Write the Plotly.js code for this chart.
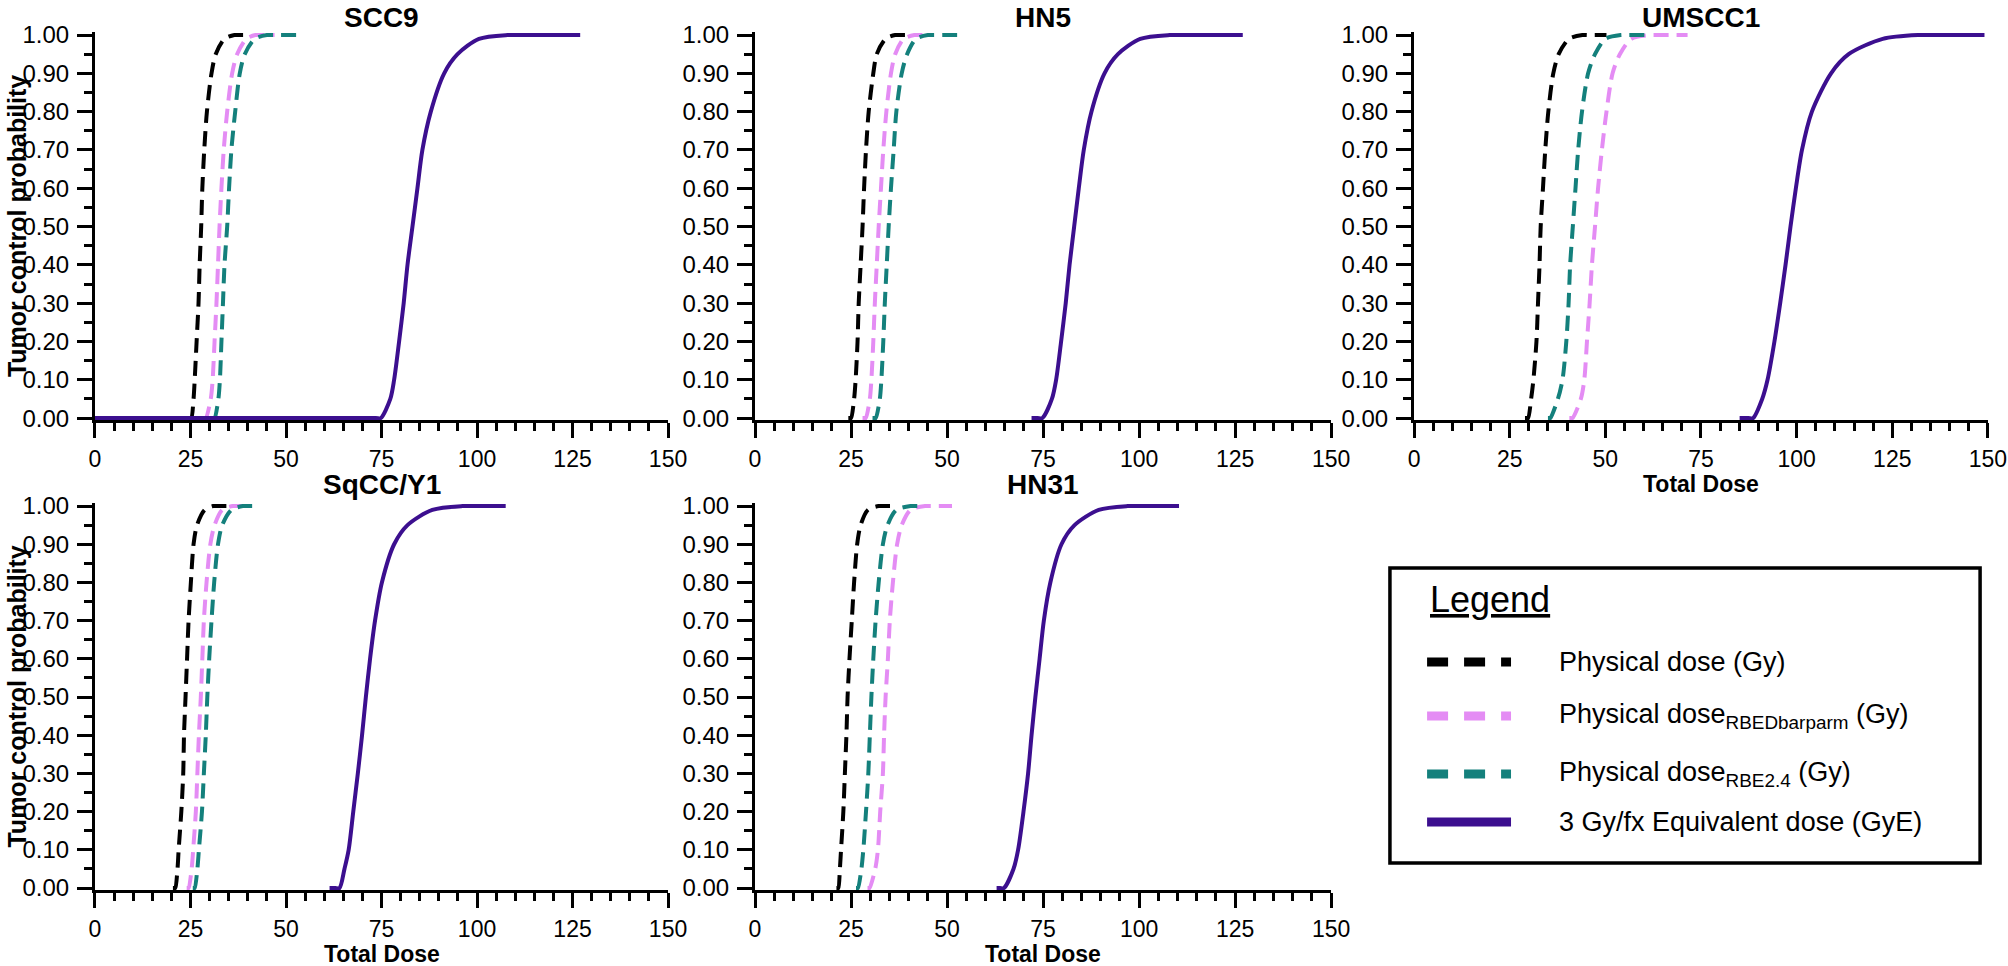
<!DOCTYPE html>
<html>
<head>
<meta charset="utf-8">
<script src="https://cdn.plot.ly/plotly-3.0.1.min.js"></script>
<style>
  html, body { margin: 0; padding: 0; background: #fff; overflow: hidden; }
  #tcp-chart { width: 2008px; height: 966px; }
</style>
</head>
<body>
<div id="tcp-chart"></div>
<script>
// TCP level of each point; every dose array below is read off its curve at these levels
// (first = where the drawn line starts, last = where it stops on the 1.00 plateau)
var tcpLevels = [0, 0, 0, 0.05, 0.1, 0.2, 0.3, 0.4, 0.5, 0.6, 0.7, 0.8, 0.9, 0.95, 0.99, 1, 1, 1];

var panelNames = ['SCC9', 'HN5', 'UMSCC1', 'SqCC/Y1', 'HN31'];
var seriesNames = [
  'Physical dose (Gy)',
  'Physical dose<sub>RBEDbarparm</sub> (Gy)',
  'Physical dose<sub>RBE2.4</sub> (Gy)',
  '3 Gy/fx Equivalent dose (GyE)'
];
var xTicks = [0, 25, 50, 75, 100, 125, 150];
var yTicks = [0, 0.1, 0.2, 0.3, 0.4, 0.5, 0.6, 0.7, 0.8, 0.9, 1];

// SCC9
var scc9Physical = [24.3, 24.8, 25.2, 25.8, 26.1, 26.6, 27.1, 27.4, 27.8, 28.1, 28.6, 29.3, 30.5, 31.6, 33.9, 36.5, 37.5, 40.5];
var scc9Rbed     = [28.2, 28.6, 29.0, 30.3, 30.8, 31.3, 31.8, 32.2, 32.6, 33.1, 33.7, 34.6, 35.9, 37.2, 39.6, 42.0, 43.0, 47.0];
var scc9Rbe24    = [30.6, 31.0, 31.3, 32.3, 32.7, 33.1, 33.5, 33.9, 34.6, 35.1, 35.7, 36.7, 37.9, 39.2, 41.8, 45.0, 46.5, 52.7];
var scc9Equiv    = [0, 73.5, 74.8, 77.3, 78.3, 79.6, 80.8, 81.8, 83.1, 84.4, 85.7, 87.9, 91.4, 94.9, 100.5, 108.0, 111.0, 127.0];

// HN5
var hn5Physical = [24.3, 24.7, 25.0, 25.8, 26.2, 26.7, 27.0, 27.5, 28.0, 28.4, 28.9, 29.6, 30.8, 31.7, 34.0, 36.5, 37.5, 41.0];
var hn5Rbed     = [28.0, 28.4, 28.8, 29.9, 30.3, 30.8, 31.2, 31.7, 32.2, 32.8, 33.4, 34.2, 35.4, 36.5, 38.7, 41.5, 42.5, 45.7];
var hn5Rbe24    = [30.6, 31.0, 31.4, 32.5, 32.9, 33.4, 33.8, 34.3, 34.8, 35.4, 36.1, 36.8, 38.2, 39.6, 41.9, 45.0, 46.5, 53.1];
var hn5Equiv    = [72.0, 73.6, 74.8, 77.3, 78.4, 79.7, 80.9, 81.9, 83.1, 84.3, 85.6, 87.6, 91.0, 94.5, 100.3, 108.0, 111.0, 127.0];

// UMSCC1
var umscc1Physical = [29.0, 29.4, 29.8, 30.6, 31.2, 32.0, 32.4, 32.8, 33.1, 33.7, 34.3, 35.1, 36.4, 37.8, 40.5, 44.0, 45.5, 50.3];
var umscc1Rbed     = [40.6, 41.0, 41.4, 43.6, 44.5, 45.2, 45.9, 46.5, 47.3, 48.1, 49.1, 50.3, 51.9, 53.8, 56.8, 62.0, 64.0, 71.5];
var umscc1Rbe24    = [35.0, 35.3, 35.6, 37.6, 38.8, 39.8, 40.4, 40.8, 41.5, 42.2, 42.9, 43.9, 45.5, 47.3, 50.0, 54.0, 55.5, 60.3];
var umscc1Equiv    = [85.1, 87.4, 88.6, 91.0, 92.4, 94.2, 95.7, 97.1, 98.4, 99.8, 101.4, 104.0, 109.0, 113.6, 122.5, 132.0, 136.0, 149.1];

// SqCC/Y1
var sqccPhysical = [20.4, 20.7, 21.0, 21.6, 21.9, 22.6, 23.1, 23.3, 23.7, 24.1, 24.5, 25.1, 25.8, 26.7, 28.7, 30.9, 31.9, 35.7];
var sqccRbed     = [24.0, 24.3, 24.5, 25.3, 25.7, 26.4, 26.8, 27.2, 27.7, 28.1, 28.5, 29.2, 30.2, 31.3, 33.3, 36.1, 37.1, 40.0];
var sqccRbe24    = [25.6, 25.9, 26.1, 26.8, 27.2, 28.0, 28.5, 29.0, 29.4, 29.9, 30.5, 31.2, 32.2, 33.3, 35.7, 38.7, 39.7, 42.4];
var sqccEquiv    = [61.4, 62.9, 64.0, 65.3, 66.4, 67.6, 68.8, 69.9, 70.9, 72.0, 73.3, 75.1, 78.3, 81.8, 88.3, 96.2, 99.0, 107.5];

// HN31
var hn31Physical = [21.2, 21.5, 21.7, 22.1, 22.4, 23.0, 23.4, 23.8, 24.1, 24.6, 25.2, 25.8, 26.6, 27.5, 29.4, 32.2, 33.2, 35.9];
var hn31Rbed     = [29.3, 29.6, 29.8, 31.3, 32.0, 32.6, 33.3, 33.6, 34.0, 34.6, 35.1, 35.9, 37.0, 38.2, 40.5, 44.3, 45.5, 51.3];
var hn31Rbe24    = [26.3, 26.6, 26.8, 27.7, 28.2, 28.9, 29.5, 29.9, 30.3, 30.8, 31.4, 32.2, 33.3, 34.5, 36.8, 40.5, 41.5, 42.9];
var hn31Equiv    = [62.9, 63.8, 64.8, 67.3, 68.5, 69.9, 71.1, 72.0, 73.0, 74.1, 75.2, 76.9, 79.8, 83.2, 89.5, 97.0, 100.0, 110.4];

var panelDoses = [
  [scc9Physical, scc9Rbed, scc9Rbe24, scc9Equiv],
  [hn5Physical, hn5Rbed, hn5Rbe24, hn5Equiv],
  [umscc1Physical, umscc1Rbed, umscc1Rbe24, umscc1Equiv],
  [sqccPhysical, sqccRbed, sqccRbe24, sqccEquiv],
  [hn31Physical, hn31Rbed, hn31Rbe24, hn31Equiv]
];

var seriesColors = ['#000000', '#e48cf4', '#14807c', '#3c0f8f'];
var seriesDash = ['15px,8px', '15px,8px', '15px,8px', 'solid'];

var FONT = 'Liberation Sans, Arial, sans-serif';
var colDomains = [[0.0473, 0.3327], [0.376, 0.6629], [0.7042, 0.990]];
var rowDomains = [[0.5652, 0.9669], [0.0787, 0.4793]];

var data = [];
panelDoses.forEach(function (doses, p) {
  doses.forEach(function (xs, s) {
    data.push({
      x: xs,
      y: tcpLevels,
      xaxis: 'x' + (p + 1),
      yaxis: 'y' + (p + 1),
      type: 'scatter',
      mode: 'lines',
      name: seriesNames[s],
      showlegend: false,
      hoverinfo: 'skip',
      line: {
        color: seriesColors[s],
        width: 4,
        dash: seriesDash[s],
        shape: 'spline',
        smoothing: 0.8
      }
    });
  });
});

var layout = {
  width: 2008,
  height: 966,
  margin: { l: 0, r: 0, t: 0, b: 0 },
  paper_bgcolor: '#ffffff',
  plot_bgcolor: '#ffffff',
  showlegend: false,
  font: { family: FONT, color: '#000' },
  annotations: [],
  shapes: []
};

panelNames.forEach(function (name, p) {
  var col = p % 3, row = p < 3 ? 0 : 1;
  var n = p + 1;
  layout['xaxis' + (n === 1 ? '' : n)] = {
    domain: colDomains[col],
    anchor: 'y' + n,
    range: [0, 150],
    tickmode: 'array',
    tickvals: xTicks,
    ticktext: xTicks.map(String),
    showgrid: false,
    zeroline: false,
    showline: true,
    linecolor: '#000',
    linewidth: 3,
    ticks: 'outside',
    ticklen: 15,
    tickwidth: 3,
    tickcolor: '#000',
    ticklabelstandoff: 1,
    tickfont: { family: FONT, size: 23, color: '#000' },
    minor: { ticks: 'outside', ticklen: 8, tickwidth: 3, tickcolor: '#000', dtick: 5, tick0: 0 },
    fixedrange: true
  };
  layout['yaxis' + (n === 1 ? '' : n)] = {
    domain: rowDomains[row],
    anchor: 'x' + n,
    range: [-0.005, 1.008],
    tickmode: 'array',
    tickvals: yTicks,
    ticktext: yTicks.map(function (v) { return v.toFixed(2); }),
    showgrid: false,
    zeroline: false,
    showline: true,
    linecolor: '#000',
    linewidth: 3,
    ticks: 'outside',
    ticklen: 15,
    tickwidth: 3,
    tickcolor: '#000',
    ticklabelstandoff: 3,
    tickfont: { family: FONT, size: 24, color: '#000' },
    minor: { ticks: 'outside', ticklen: 8, tickwidth: 3, tickcolor: '#000', dtick: 0.05, tick0: 0 },
    fixedrange: true
  };

  var cx = (colDomains[col][0] + colDomains[col][1]) / 2;
  layout.annotations.push({
    xref: 'paper', yref: 'paper',
    x: cx, y: row === 0 ? 0.982 : 0.498,
    xanchor: 'center', yanchor: 'middle',
    text: '<b>' + name + '</b>',
    font: { family: FONT, size: 28, color: '#000' },
    showarrow: false
  });
});

// axis titles placed like the original figure
[[2, 0.499], [3, 0.0124], [4, 0.0124]].forEach(function (t) {
  var d = colDomains[t[0] % 3];
  layout.annotations.push({
    xref: 'paper', yref: 'paper',
    x: (d[0] + d[1]) / 2, y: t[1],
    xanchor: 'center', yanchor: 'middle',
    text: '<b>Total Dose</b>',
    font: { family: FONT, size: 23, color: '#000' },
    showarrow: false
  });
});
rowDomains.forEach(function (d) {
  layout.annotations.push({
    xref: 'paper', yref: 'paper',
    x: 0.0085, y: (d[0] + d[1]) / 2,
    xanchor: 'center', yanchor: 'middle',
    textangle: -90,
    text: '<b>Tumor control probability</b>',
    font: { family: FONT, size: 25, color: '#000' },
    showarrow: false
  });
});

// boxed legend in the empty sixth cell
layout.shapes.push({
  type: 'rect', xref: 'paper', yref: 'paper',
  x0: 0.6922, x1: 0.9861, y0: 0.1066, y1: 0.412,
  line: { color: '#000', width: 3.5 }, fillcolor: 'rgba(0,0,0,0)'
});
layout.annotations.push({
  xref: 'paper', yref: 'paper',
  x: 0.7112, y: 0.3789,
  xanchor: 'left', yanchor: 'middle',
  text: '<u>Legend</u>',
  font: { family: FONT, size: 36, color: '#000' },
  showarrow: false
});
var legendRows = [0.3147, 0.2588, 0.1988, 0.1491];
seriesNames.forEach(function (label, s) {
  layout.shapes.push({
    type: 'line', xref: 'paper', yref: 'paper',
    x0: 0.7107, x1: 0.7525, y0: legendRows[s], y1: legendRows[s],
    line: { color: seriesColors[s], width: 9, dash: s === 3 ? 'solid' : '21px,16px' }
  });
  layout.annotations.push({
    xref: 'paper', yref: 'paper',
    x: 0.7754, y: legendRows[s],
    xanchor: 'left', yanchor: 'middle',
    text: label,
    font: { family: FONT, size: 27, color: '#000' },
    showarrow: false
  });
});

Plotly.newPlot('tcp-chart', data, layout, { staticPlot: true, displayModeBar: false });
</script>
</body>
</html>
